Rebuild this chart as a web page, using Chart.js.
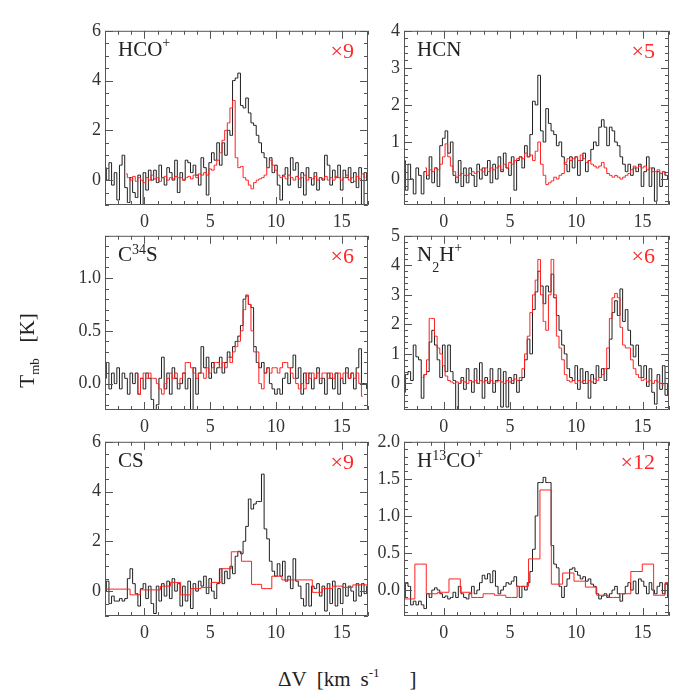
<!DOCTYPE html>
<html>
<head>
<meta charset="utf-8">
<title>Line spectra</title>
<script src="https://cdn.jsdelivr.net/npm/chart.js@4.4.1/dist/chart.umd.min.js"></script>
<style>
  html, body { margin: 0; padding: 0; background: #fff; }
  #page { position: relative; width: 700px; height: 700px; overflow: hidden;
          font-family: "Liberation Serif", "DejaVu Serif", serif; color: #222; }
  #page canvas { position: absolute; }
  .name, .fac, .title { position: absolute; white-space: nowrap; line-height: 21px; }
  .name { font-size: 21px; }
  .fac { font-size: 22px; color: #ff2828; }
  .title { font-size: 21px; }
  .pl { font-size: 14px; position: relative; top: -9px; }
  .sp { font-size: 14px; position: relative; top: -7px; }
  .sb { font-size: 14px; position: relative; top: 11px; }
</style>
</head>
<body>
<div id="page"></div>
<script>
// channel grids (km/s)
const CHAN = 0.2;
const blackStart = -3.0;
const hcoRedStart = -1.4;
const hcnRedStart = -1.4;
const c34sRedStart = -0.6;
const n2hRedStart = -1.6;

// HCO+
const hcoBlack = [
  0.5, 0.0, 0.7, -0.2, 0.3, -0.8, 0.6, 1.0, -0.3, -0.9,
  0.1, -0.5, -0.7, 0.2, -1.0, 0.3, -0.4, 0.4, 0.0, 0.4,
  -0.1, 0.6, 0.1, -0.2, 0.5, 0.3, 0.0, 0.8, -0.5, 0.3,
  0.0, 0.8, 0.7, 0.3, 0.6, 0.2, -0.2, 0.9, 0.5, -0.6,
  0.7, 1.1, 0.8, 1.5, 0.6, 1.5, 1.0, 2.0, 1.8, 4.0,
  4.1, 4.3, 3.0, 2.9, 3.3, 2.7, 2.3, 2.2, 1.8, 1.5,
  1.1, 0.9, 0.5, 0.9, 0.3, 0.6, -0.2, -0.8, 0.2, 0.5,
  -0.2, 0.9, 0.4, 0.7, -0.3, 0.3, -0.6, 0.5, 0.1, -0.2,
  0.3, -0.4, 0.1, 0.0, 1.0, 0.6, -0.2, 0.4, 0.1, 0.6,
  -0.4, 0.4, 0.1, 0.5, -0.1, 0.3, -0.3, 0.5, -1.0, 0.3,
  0.0
];
const hcoRed = [
  0.25, 0.1, 0.0, 0.15, -0.05, 0.1, 0.0, -0.1, 0.1, 0.0,
  0.2, 0.05, 0.1, -0.05, 0.1, 0.15, 0.0, 0.1, 0.05, 0.15,
  0.1, 0.1, 0.0, 0.1, 0.15, 0.05, 0.2, 0.1, 0.25, 0.2,
  0.3, 0.2, 0.45, 0.4, 0.6, 0.8, 1.1, 1.6, 2.0, 2.3,
  2.9, 3.2, 0.9, 0.5, 0.55, 0.1, 0.0, -0.2, -0.35, -0.1,
  0.0, 0.05, 0.1, 0.2, 0.5, 0.8, 0.6, 0.4, 0.2, 0.1,
  0.15, 0.05, 0.2, 0.1, 0.0, 0.15, 0.05, 0.1, 0.2, 0.0,
  0.1, 0.05, 0.15, 0.0, 0.1, 0.05, 0.15, 0.0, 0.1, 0.0,
  0.15, 0.1, 0.0, 0.1, 0.2, 0.0, 0.1, -0.05, 0.15, 0.05,
  0.25, 0.1
];

// HCN
const hcnBlack = [
  0.5, -0.3, 0.4, 0.0, -0.4, 0.3, 0.1, -0.4, 0.2, 0.0,
  0.6, -0.1, 0.3, -0.2, 0.9, 1.1, 1.3, 0.7, 1.0, 0.1,
  -0.1, 0.5, -0.2, 0.3, -0.1, 0.3, 0.1, -0.2, 0.4, 0.0,
  0.3, 0.1, 0.5, -0.1, 0.4, 0.0, 0.6, 0.2, 0.7, 0.3,
  0.1, 0.6, -0.3, 0.5, 0.6, 0.3, 0.9, 0.6, 1.2, 2.1,
  2.0, 2.8, 1.3, 1.0, 1.9, 1.5, 1.3, 1.2, 0.9, 1.0,
  0.6, 0.4, 0.2, 0.6, 0.3, 0.6, 0.1, 0.5, 0.7, 0.2,
  0.5, 0.8, 1.0, 0.9, 1.4, 1.6, 1.4, 0.9, 1.4, 1.3,
  1.0, 0.9, 0.6, 0.4, 0.2, 0.4, 0.1, 0.3, 0.2, 0.4,
  -0.2, 0.2, 0.6, -0.2, 0.3, -0.6, 0.2, -0.2, 0.2, 0.1,
  0.0
];
const hcnRed = [
  0.3, 0.1, 0.25, 0.2, 0.3, 0.25, 0.4, 0.6, 0.95, 0.6,
  0.35, 0.2, 0.05, 0.1, 0.15, 0.1, 0.1, 0.15, 0.2, 0.15,
  0.2, 0.25, 0.2, 0.3, 0.2, 0.3, 0.25, 0.3, 0.35, 0.25,
  0.4, 0.3, 0.45, 0.4, 0.5, 0.55, 0.6, 0.55, 0.7, 0.6,
  0.65, 0.5, 0.75, 1.0, 0.4, 0.1, -0.15, -0.1, -0.05, 0.05,
  0.0, 0.1, 0.15, 0.45, 0.55, 0.5, 0.55, 0.6, 0.5, 0.65,
  0.55, 0.45, 0.5, 0.4, 0.35, 0.3, 0.35, 0.45, 0.3, 0.15,
  0.1, 0.05, 0.1, 0.05, 0.0, 0.05, 0.1, 0.15, 0.25, 0.35,
  0.3, 0.35, 0.3, 0.35, 0.25, 0.3, 0.2, 0.2, 0.25, 0.15,
  0.2, 0.1
];

// C34S
const c34sBlack = [
  0.05, 0.2, -0.05, 0.1, 0.0, 0.15, -0.05, 0.1, 0.05, -0.1,
  0.1, 0.0, 0.1, -0.1, 0.05, -0.05, 0.1, 0.05, -0.15, -0.25,
  -0.2, 0.05, 0.25, -0.05, 0.1, -0.1, 0.15, 0.05, -0.05, 0.0,
  0.1, -0.05, 0.05, -0.25, 0.15, -0.1, 0.1, 0.35, 0.15, 0.25,
  0.05, 0.2, 0.1, 0.15, 0.25, 0.1, 0.2, 0.3, 0.25, 0.35,
  0.4, 0.45, 0.55, 0.8, 0.83, 0.75, 0.72, 0.35, 0.2, 0.15,
  0.2, 0.1, 0.15, 0.0, -0.05, -0.1, -0.05, -0.1, 0.05, 0.1,
  0.0, 0.15, 0.27, 0.05, 0.15, -0.1, 0.1, 0.0, 0.1, -0.05,
  0.05, 0.15, 0.0, 0.05, -0.1, 0.1, 0.05, -0.05, 0.1, -0.1,
  0.05, 0.0, 0.15, 0.05, 0.1, -0.05, 0.15, 0.33, 0.0, 0.0,
  -0.05
];
const c34sRed = [
  0.1, -0.1, 0.05, 0.1, 0.05, 0.1, 0.05, 0.05, 0.0, -0.05,
  -0.1, 0.0, 0.05, 0.1, 0.05, 0.1, 0.0, 0.05, 0.1, 0.2,
  0.2, 0.15, 0.1, 0.05, 0.1, 0.1, 0.05, 0.15, 0.1, 0.15,
  0.2, 0.2, 0.15, 0.2, 0.15, 0.25, 0.2, 0.3, 0.35, 0.4,
  0.5, 0.7, 0.84, 0.75, 0.5, 0.3, 0.3, 0.0, -0.05, 0.1,
  0.15, 0.1, 0.15, 0.15, 0.1, 0.15, 0.2, 0.2, 0.15, 0.1,
  0.05, 0.0, -0.05, 0.0, -0.05, 0.1, 0.05, 0.1, 0.05, 0.1,
  0.05, 0.1, 0.1, 0.05, 0.1, 0.05, 0.1, 0.1, 0.05, 0.1,
  0.1, 0.05, 0.1, 0.05, 0.1, 0.0, -0.12
];

// N2H+
const n2hBlack = [
  -0.3, 0.3, 0.4, 0.1, 1.3, 0.9, 0.8, -0.5, 0.3, 0.4,
  1.4, 1.8, 1.3, 0.8, 0.2, 1.3, 0.4, 1.3, 0.4, 0.1,
  -0.9, 0.0, 0.2, -0.2, 0.5, 0.1, -0.3, 0.5, 0.0, 0.7,
  -0.5, 0.2, 0.0, 0.5, -0.3, 0.1, 0.5, -0.8, 0.4, -0.8,
  0.2, 0.0, 0.3, -0.3, 0.1, 0.2, 0.8, 1.5, 1.0, 2.5,
  3.1, 3.8, 3.3, 2.7, 3.3, 3.1, 3.7, 2.9, 2.3, 1.8,
  1.3, 1.0, 0.5, 0.2, 0.1, 0.6, -0.2, 0.5, 0.0, 0.4,
  -0.5, 0.3, 0.0, 0.6, 0.2, 0.5, 0.1, 0.5, 1.5, 2.4,
  2.8, 2.3, 3.2, 2.1, 2.5, 1.8, 1.3, 0.9, 1.3, 0.6,
  0.2, 0.6, -0.1, 0.5, -0.3, -0.7, 0.3, -0.2, 0.6, -0.4,
  0.0
];
const n2hRed = [
  0.2, 0.3, 0.8, 2.2, 2.2, 1.6, 1.2, 1.0, 0.6, 0.25,
  0.1, 0.05, 0.0, 0.05, 0.0, 0.1, 0.05, 0.0, 0.1, 0.05,
  0.1, 0.0, 0.1, 0.05, 0.1, 0.05, 0.1, 0.0, 0.05, 0.1,
  0.05, 0.0, 0.1, 0.05, 0.1, 0.15, 0.1, 0.2, 0.5, 1.0,
  1.6, 2.4, 3.0, 3.5, 4.2, 3.0, 2.1, 1.8, 3.0, 4.2,
  3.0, 1.6, 1.2, 0.8, 0.3, 0.1, 0.05, 0.1, 0.0, 0.1,
  0.05, 0.1, 0.0, 0.1, 0.05, 0.15, 0.1, 0.2, 0.3, 0.5,
  1.2, 2.2, 2.9, 3.05, 2.9, 1.9, 1.3, 1.2, 1.2, 0.8,
  0.5, 0.3, 0.2, 0.1, 0.15, 0.05, 0.1, 0.0, 0.1, 0.05,
  0.0, -0.05
];

// CS
const csBlack = [
  0.0, 0.4, -0.5, -0.2, -0.4, -0.4, -0.3, -0.4, -0.3, 0.5,
  0.9, 0.3, -0.1, -0.6, 0.1, 0.3, -0.3, 0.2, -0.5, -0.9,
  0.2, -0.4, 0.3, -0.2, 0.4, -0.3, 0.5, 0.0, 0.3, -0.6,
  0.2, -0.4, 0.4, -0.7, 0.3, 0.0, 0.4, 0.2, 0.6, -0.1,
  0.5, 0.0, -0.3, 0.3, 0.9, 0.3, 0.8, 0.5, 1.0, 0.7,
  1.4, 1.6, 1.5, 2.0, 2.6, 3.7, 3.3, 3.5, 3.6, 3.6,
  4.7, 2.5, 2.1, 1.2, 0.8, 0.6, 1.1, 0.6, 1.2, 0.4,
  0.6, 0.1, 1.3, 0.4, 0.2, -0.3, -0.6, 0.3, -0.6, 0.2,
  0.1, 0.3, -0.2, 0.2, -0.8, 0.3, -0.5, 0.4, -0.6, 0.1,
  -0.5, 0.3, -0.2, 0.2, 0.0, -0.4, 0.3, -0.2, 0.3, -0.1,
  0.2
];
const csRedVel = [
  -3.02, -2.25, -1.48, -0.71, 0.06, 0.83, 1.60, 2.37, 3.14, 3.91,
  4.68, 5.45, 6.22, 6.99, 7.76, 8.53, 9.30, 10.07, 10.84, 11.61,
  12.38, 13.15, 13.92, 14.69, 15.46, 16.23, 17.00
];
const csRed = [
  0.08, 0.08, 0.08, -0.15, 0.05, 0.05, 0.2, 0.35, -0.15, 0.1,
  0.15, 0.35, 0.9, 1.58, 1.2, 0.27, 0.1, 0.6, 0.45, 0.45,
  0.45, -0.05, 0.1, 0.2, 0.15, 0.25, 0.25
];

// H13CO+
const h13coBlack = [
  -0.1, 0.1, 0.05, -0.2, -0.15, -0.2, -0.15, -0.2, -0.25, -0.05,
  -0.1, 0.0, 0.03, 0.0, -0.05, -0.1, -0.08, -0.12, -0.1, -0.03,
  -0.1, 0.05, -0.05, -0.1, -0.12, -0.05, 0.05, -0.05, 0.0, 0.1,
  0.2, 0.15, 0.22, 0.1, 0.26, 0.05, -0.05, 0.0, 0.05, 0.1,
  0.08, 0.12, 0.18, 0.05, -0.1, 0.05, 0.0, 0.1, 0.25, 0.55,
  1.0, 1.45, 1.45, 1.52, 1.45, 1.45, 0.6, 0.35, 0.3, 0.05,
  -0.1, 0.05, 0.15, 0.28, 0.3, 0.25, 0.2, 0.15, 0.18, 0.12,
  0.15, 0.08, 0.05, -0.05, -0.12, -0.08, -0.05, -0.1, -0.05, 0.0,
  0.05, -0.05, -0.15, -0.05, 0.05, 0.1, 0.0, 0.12, -0.05, 0.15,
  0.12, 0.05, -0.05, 0.1, 0.0, -0.05, 0.05, 0.1, -0.05, 0.08,
  -0.1
];
const h13coRedVel = [
  -3.47, -2.61, -1.75, -0.89, -0.03, 0.82, 1.68, 2.54, 3.40, 4.26,
  5.11, 5.97, 6.83, 7.69, 8.55, 9.40, 10.26, 11.12, 11.98, 12.83,
  13.69, 14.55, 15.41, 16.27, 17.13
];
const h13coRed = [
  -0.12, -0.12, 0.35, -0.05, -0.03, 0.15, -0.03, -0.1, -0.05, -0.07,
  -0.1, 0.05, 0.42, 1.35, 0.08, 0.23, 0.12, 0.04, -0.07, -0.1,
  -0.05, 0.25, 0.35, -0.07, 0.1
];

// axis ticks
const velTicks = [0, 5, 10, 15];
const hcoTicks = [0, 2, 4, 6];
const hcnTicks = [0, 1, 2, 3, 4];
const c34sTicks = [0, 0.5, 1.0];
const n2hTicks = [0, 1, 2, 3, 4, 5];
const csTicks = [0, 2, 4, 6];
const h13coTicks = [0, 0.5, 1.0, 1.5, 2.0];

const FONT = '"Liberation Serif", "DejaVu Serif", serif';
const BLACK = '#1e1e1e';
const RED = 'rgb(255,32,32)';

function onGrid(v0, ys) {
    return ys.map((y, i) => ({ x: Math.round((v0 + i * CHAN) * 100) / 100, y }));
}
function onVel(vs, ys) {
    return ys.map((y, i) => ({ x: vs[i], y }));
}
function isMult(v, step) {
    const r = v / step;
    return Math.abs(r - Math.round(r)) < 1e-6;
}

// box + inward major/minor ticks on all four sides
const framePlugin = {
    id: 'frame',
    afterDatasetsDraw(chart, args, o) {
        const { ctx, chartArea: a } = chart;
        const x = chart.scales.x, y = chart.scales.y;
        ctx.save();
        ctx.strokeStyle = '#555';
        ctx.lineWidth = 1;
        ctx.beginPath();
        ctx.rect(a.left + 0.5, a.top + 0.5, a.right - a.left - 1, a.bottom - a.top - 1);
        for (let k = Math.ceil(x.min / o.xMinor - 1e-9); k * o.xMinor <= x.max + 1e-9; k++) {
            const v = k * o.xMinor;
            const len = isMult(v, o.xMajor) ? 8 : 4;
            const px = Math.round(x.getPixelForValue(v)) + 0.5;
            ctx.moveTo(px, a.bottom); ctx.lineTo(px, a.bottom - len);
            ctx.moveTo(px, a.top); ctx.lineTo(px, a.top + len);
        }
        for (let k = Math.ceil(y.min / o.yMinor - 1e-9); k * o.yMinor <= y.max + 1e-9; k++) {
            const v = k * o.yMinor;
            const len = isMult(v, o.yMajor) ? 8 : 4;
            const py = Math.round(y.getPixelForValue(v)) + 0.5;
            ctx.moveTo(a.left, py); ctx.lineTo(a.left + len, py);
            ctx.moveTo(a.right, py); ctx.lineTo(a.right - len, py);
        }
        ctx.stroke();
        ctx.restore();
    }
};

const panels = [
    { name: 'HCO<span class="pl">+</span>', factor: '×9', box: [105, 28, 263, 177],
      yRange: [-1, 6], yTicks: hcoTicks, yMajor: 2, yMinor: 0.5, dec: 0,
      black: onGrid(blackStart, hcoBlack), red: onGrid(hcoRedStart, hcoRed) },
    { name: 'HCN', factor: '×5', box: [404, 28, 265, 177],
      yRange: [-0.7, 4], yTicks: hcnTicks, yMajor: 1, yMinor: 0.2, dec: 0,
      black: onGrid(blackStart, hcnBlack), red: onGrid(hcnRedStart, hcnRed) },
    { name: 'C<span class="sp">34</span>S', factor: '×6', box: [105, 233, 263, 177],
      yRange: [-0.25, 1.4], yTicks: c34sTicks, yMajor: 0.5, yMinor: 0.1, dec: 1,
      black: onGrid(blackStart, c34sBlack), red: onGrid(c34sRedStart, c34sRed) },
    { name: 'N<span class="sb">2</span>H<span class="pl">+</span>', factor: '×6', box: [404, 233, 265, 177],
      yRange: [-0.9, 5], yTicks: n2hTicks, yMajor: 1, yMinor: 0.2, dec: 0,
      black: onGrid(blackStart, n2hBlack), red: onGrid(n2hRedStart, n2hRed) },
    { name: 'CS', factor: '×9', box: [105, 439, 263, 177],
      yRange: [-1, 6], yTicks: csTicks, yMajor: 2, yMinor: 0.5, dec: 0,
      black: onGrid(blackStart, csBlack), red: onVel(csRedVel, csRed) },
    { name: 'H<span class="sp">13</span>CO<span class="pl">+</span>', factor: '×12', box: [404, 439, 265, 177],
      yRange: [-0.35, 2], yTicks: h13coTicks, yMajor: 0.5, yMinor: 0.1, dec: 1,
      black: onGrid(blackStart, h13coBlack), red: onVel(h13coRedVel, h13coRed) }
];

const page = document.getElementById('page');
const PAD_L = 45, PAD_T = 12, PAD_R = 10, PAD_B = 30;

function addDiv(cls, html, style) {
    const d = document.createElement('div');
    d.className = cls;
    d.innerHTML = html;
    Object.assign(d.style, style);
    page.appendChild(d);
    return d;
}

panels.forEach(p => {
    const [bx, by, bw, bh] = p.box;
    const cv = document.createElement('canvas');
    cv.width = bw + PAD_L + PAD_R;
    cv.height = bh + PAD_T + PAD_B;
    cv.style.left = (bx - PAD_L) + 'px';
    cv.style.top = (by - PAD_T) + 'px';
    page.appendChild(cv);

    new Chart(cv, {
        type: 'line',
        data: {
            datasets: [
                { data: p.red, borderColor: RED, borderWidth: 1, stepped: 'middle', pointRadius: 0, fill: false },
                { data: p.black, borderColor: BLACK, borderWidth: 1, stepped: 'middle', pointRadius: 0, fill: false }
            ]
        },
        options: {
            responsive: false,
            animation: false,
            events: [],
            layout: { padding: { top: PAD_T, right: PAD_R, left: 0, bottom: 0 } },
            plugins: {
                legend: { display: false },
                tooltip: { enabled: false },
                frame: { xMajor: 5, xMinor: 1, yMajor: p.yMajor, yMinor: p.yMinor }
            },
            scales: {
                x: {
                    type: 'linear', min: -3, max: 17,
                    afterBuildTicks: s => { s.ticks = velTicks.map(value => ({ value })); },
                    afterFit: s => { s.height = PAD_B; },
                    grid: { display: false, drawTicks: false },
                    border: { display: false },
                    ticks: { color: '#333', padding: 6, maxRotation: 0, autoSkip: false,
                             font: { family: FONT, size: 18 } }
                },
                y: {
                    type: 'linear', min: p.yRange[0], max: p.yRange[1],
                    afterBuildTicks: s => { s.ticks = p.yTicks.map(value => ({ value })); },
                    afterFit: s => { s.width = PAD_L; },
                    grid: { display: false, drawTicks: false },
                    border: { display: false },
                    ticks: { color: '#333', padding: 4, autoSkip: false,
                             font: { family: FONT, size: 18 },
                             callback: v => Number(v).toFixed(p.dec) }
                }
            }
        },
        plugins: [framePlugin]
    });

    addDiv('name', p.name, { left: (bx + 13) + 'px', top: (by + 11) + 'px' });
    addDiv('fac', p.factor, { right: (700 - (bx + bw - 14)) + 'px', top: (by + 12) + 'px' });
});

// axis titles
addDiv('title', 'T<span class="sb" style="font-size:13px;top:5px">mb</span>&nbsp;&nbsp;&nbsp;[K]', {
    left: '-72px', top: '339px', width: '200px', textAlign: 'center', transform: 'rotate(-90deg)'
});
addDiv('title', '&Delta;V<span style="margin-left:10px">[km</span><span style="margin-left:10px">s</span>' +
    '<span class="sp" style="font-size:13px;top:-9px">-1</span><span style="margin-left:30px">]</span>', {
    left: '278px', top: '669px'
});
</script>
</body>
</html>
